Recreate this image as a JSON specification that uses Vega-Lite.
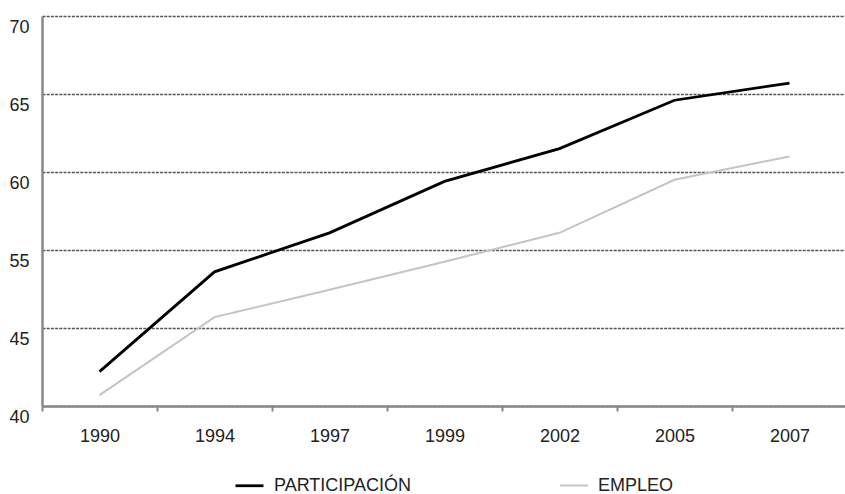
{
  "$schema": "https://vega.github.io/schema/vega-lite/v6.json",
  "width": 805,
  "height": 390,
  "autosize": {"type": "none"},
  "padding": {"left": 42, "top": 16, "right": 0, "bottom": 88},
  "background": "white",
  "data": {
    "values": [
      {"year": "1990", "serie": "PARTICIPACIÓN", "value": 42.2},
      {"year": "1994", "serie": "PARTICIPACIÓN", "value": 52.2},
      {"year": "1997", "serie": "PARTICIPACIÓN", "value": 56.1},
      {"year": "1999", "serie": "PARTICIPACIÓN", "value": 59.4},
      {"year": "2002", "serie": "PARTICIPACIÓN", "value": 61.5},
      {"year": "2005", "serie": "PARTICIPACIÓN", "value": 64.6},
      {"year": "2007", "serie": "PARTICIPACIÓN", "value": 65.7},
      {"year": "1990", "serie": "EMPLEO", "value": 40.7},
      {"year": "1994", "serie": "EMPLEO", "value": 46.4},
      {"year": "1997", "serie": "EMPLEO", "value": 49.9},
      {"year": "1999", "serie": "EMPLEO", "value": 53.5},
      {"year": "2002", "serie": "EMPLEO", "value": 56.1},
      {"year": "2005", "serie": "EMPLEO", "value": 59.5},
      {"year": "2007", "serie": "EMPLEO", "value": 61.0}
    ]
  },
  "mark": {"type": "line", "strokeJoin": "miter"},
  "encoding": {
    "x": {
      "field": "year",
      "type": "ordinal",
      "bandPosition": 0.5,
      "scale": {"type": "band", "paddingInner": 0, "paddingOuter": 0},
      "axis": {
        "title": null,
        "labelAngle": 0,
        "labelFont": "Liberation Sans",
        "labelFontSize": 18,
        "labelColor": "#222",
        "labelPadding": 16,
        "tickBand": "extent",
        "tickSize": 5,
        "tickColor": "#888",
        "tickWidth": 2,
        "domainColor": "#888",
        "domainWidth": 2.5,
        "grid": false
      }
    },
    "y": {
      "field": "value",
      "type": "quantitative",
      "scale": {"domain": [40, 45, 55, 60, 65, 70], "range": [390, 312, 234, 156, 78, 0], "zero": false, "nice": false},
      "axis": {
        "title": null,
        "values": [40, 45, 55, 60, 65, 70],
        "labelFont": "Liberation Sans",
        "labelFontSize": 18,
        "labelColor": "#222",
        "labelBaseline": "top",
        "labelOffset": 2,
        "labelPadding": 13,
        "ticks": false,
        "domainColor": "#888",
        "domainWidth": 2.5,
        "grid": true,
        "gridColor": "#555",
        "gridWidth": 1.4,
        "gridDash": [3, 1.2]
      }
    },
    "color": {
      "field": "serie",
      "type": "nominal",
      "scale": {"domain": ["PARTICIPACIÓN", "EMPLEO"], "range": ["#000000", "#c4c4c4"]},
      "legend": {
        "title": null,
        "orient": "none",
        "legendX": 192,
        "legendY": 454,
        "direction": "horizontal",
        "symbolType": "stroke",
        "symbolStrokeWidth": 5,
        "symbolSize": 784,
        "labelFont": "Liberation Sans",
        "labelFontSize": 18,
        "labelColor": "#222",
        "labelOffset": 9,
        "columnPadding": 144
      }
    },
    "strokeWidth": {
      "field": "serie",
      "type": "nominal",
      "scale": {"domain": ["PARTICIPACIÓN", "EMPLEO"], "range": [2.8, 2]},
      "legend": null
    }
  },
  "config": {"view": {"stroke": null}}
}
